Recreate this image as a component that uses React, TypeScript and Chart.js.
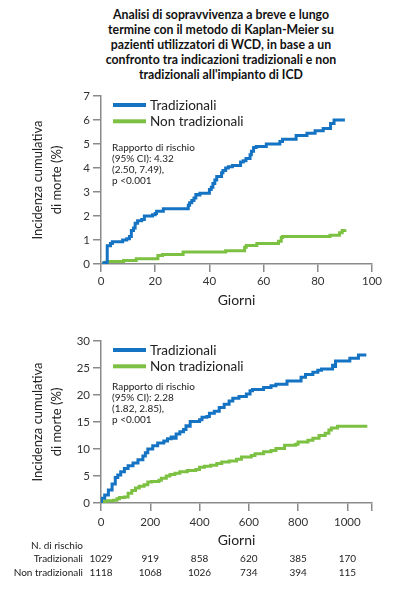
import { useEffect, useRef } from 'react';
import { Chart, registerables } from 'chart.js';

Chart.register(...registerables);

const FONT = 'Lato, "Noto Sans", sans-serif';
const BLUE = '#1573c4';
const GREEN = '#7cc142';
const AXIS = '#8a8a8a';

const titleLines = [
  'Analisi di sopravvivenza a breve e lungo',
  'termine con il metodo di Kaplan-Meier su',
  'pazienti utilizzatori di WCD, in base a un',
  'confronto tra indicazioni tradizionali e non',
  "tradizionali all'impianto di ICD",
];

const seriesNames = ['Tradizionali', 'Non tradizionali'];
const yTitle = ['Incidenza cumulativa', 'di morte (%)'];
const xTitle = 'Giorni';

// [giorno, incidenza %] - short term (90 days)
const tradShort: [number, number][] = [
  [0.5, 0.05], [2.3, 0.76], [3.5, 0.85], [4.2, 0.93], [8, 1.0], [9.5, 1.05], [10.5, 1.15],
  [11.2, 1.4], [12, 1.5], [12.6, 1.7], [13.5, 1.8], [15, 1.85], [16, 2.0], [19, 2.05],
  [20, 2.1], [20.5, 2.2], [23, 2.3], [32.2, 2.45], [32.7, 2.55], [33.5, 2.65], [34.3, 2.75],
  [35, 2.9], [36, 2.87], [36.5, 2.95], [40, 3.1], [40.7, 3.2], [41.3, 3.35], [42, 3.5],
  [42.7, 3.65], [44.5, 3.8], [45, 3.9], [46, 4.0], [47, 4.05], [48.5, 4.1], [51.5, 4.25],
  [52.5, 4.3], [53.5, 4.4], [55, 4.55], [55.5, 4.7], [56.3, 4.85], [57.3, 4.9], [61, 5.0],
  [66, 5.1], [67, 5.2], [72, 5.35], [76, 5.45], [79, 5.55], [82, 5.65], [84.7, 5.85],
  [86, 6.0], [90, 6.0],
];
const nonTradShort: [number, number][] = [
  [0.5, 0.03], [1.5, 0.07], [2.5, 0.1], [8.3, 0.15], [13, 0.22], [21, 0.35], [22.7, 0.4],
  [30.3, 0.5], [46, 0.55], [53, 0.7], [53.6, 0.77], [57.5, 0.85], [65.5, 0.95], [66.5, 1.1],
  [67, 1.15], [84.5, 1.2], [88, 1.3], [89, 1.4], [90, 1.45],
];

// long term (~3 years)
const tradLong: [number, number][] = [
  [0, 0], [2, 0.9], [15, 1.5], [30, 2.4], [45, 3.5], [58, 4.7], [68, 5.2], [80, 5.8],
  [95, 6.4], [110, 6.9], [130, 7.4], [150, 8.0], [170, 8.7], [180, 9.3], [190, 10.0],
  [210, 10.6], [230, 11.1], [255, 11.5], [270, 11.9], [285, 12.2], [295, 12.0], [305, 12.8],
  [320, 13.2], [335, 13.6], [345, 14.3], [355, 14.2], [362, 15.1], [400, 15.4], [410, 15.9],
  [430, 16.0], [440, 16.6], [460, 17.0], [480, 17.7], [500, 18.3], [520, 18.9], [535, 19.4],
  [560, 19.7], [590, 20.2], [605, 20.8], [615, 21.0], [660, 21.4], [690, 21.7], [710, 22.0],
  [755, 22.6], [812, 23.3], [830, 23.8], [860, 24.2], [880, 24.6], [895, 24.8], [940, 25.5],
  [948, 25.3], [952, 26.3], [1010, 26.8], [1045, 27.4], [1077, 27.4],
];
const nonTradLong: [number, number][] = [
  [0, 0], [8, 0.3], [20, 0.4], [50, 0.5], [65, 0.8], [75, 1.0], [95, 1.1], [110, 1.8],
  [125, 2.3], [140, 2.8], [155, 3.1], [175, 3.4], [190, 3.9], [205, 4.0], [235, 4.2],
  [245, 4.6], [265, 5.0], [280, 5.3], [300, 5.5], [320, 5.8], [350, 6.0], [385, 6.2],
  [400, 6.6], [420, 6.8], [445, 7.0], [470, 7.3], [490, 7.6], [520, 7.8], [550, 8.1],
  [570, 8.5], [610, 8.8], [625, 9.1], [660, 9.5], [690, 9.7], [710, 10.1], [745, 10.7],
  [790, 10.9], [800, 11.3], [840, 11.6], [860, 12.0], [885, 12.5], [910, 12.9], [925, 13.5],
  [935, 13.9], [960, 14.2], [1081, 14.2],
];

const xTicksShort = [0, 20, 40, 60, 80, 100];
const yTicksShort = [0, 1, 2, 3, 4, 5, 6, 7];
const xTicksLong = [0, 200, 400, 600, 800, 1000, 1100];
const yTicksLong = [0, 5, 10, 15, 20, 25, 30];

const hrShort = ['Rapporto di rischio', '(95% CI): 4.32', '(2.50, 7.49),', 'p <0.001'];
const hrLong = ['Rapporto di rischio', '(95% CI): 2.28', '(1.82, 2.85),', 'p <0.001'];

const riskLabel = 'N. di rischio';
const riskDays = [0, 200, 400, 600, 800, 1000];
const riskTrad = [1029, 919, 858, 620, 385, 170];
const riskNonTrad = [1118, 1068, 1026, 734, 394, 115];

type Extra = { hr: string[]; hrOffset: number; risk?: boolean };

function overlayPlugin(extra: Extra) {
  return {
    id: 'overlay',
    afterDraw(chart: any) {
      const { ctx, chartArea } = chart;
      const left = chartArea.left;
      const top = chartArea.top;
      ctx.save();
      // legend
      const colors = [BLUE, GREEN];
      ctx.textBaseline = 'middle';
      ctx.textAlign = 'left';
      ctx.font = `13.5px ${FONT}`;
      seriesNames.forEach((name, i) => {
        const y = top + 9 + i * 16.3;
        ctx.fillStyle = colors[i];
        ctx.fillRect(left + 12, y - 2, 33, 4);
        ctx.fillStyle = '#222';
        ctx.fillText(name, left + 49, y + 0.5);
      });
      // hazard ratio text
      ctx.font = `10px ${FONT}`;
      ctx.fillStyle = '#222';
      extra.hr.forEach((line, i) => {
        ctx.fillText(line, left + 11, top + extra.hrOffset + i * 11);
      });
      // number at risk
      if (extra.risk) {
        const x = chart.scales.x;
        const b = chartArea.bottom;
        ctx.font = `10px ${FONT}`;
        ctx.fillStyle = '#222';
        ctx.textAlign = 'right';
        ctx.fillText(riskLabel, 83, b + 43);
        ctx.fillText(seriesNames[0], 83, b + 55.7);
        ctx.fillText(seriesNames[1], 83, b + 69.3);
        ctx.textAlign = 'center';
        riskDays.forEach((d, i) => {
          const px = x.getPixelForValue(d);
          ctx.fillText(String(riskTrad[i]), px, b + 55.7);
          ctx.fillText(String(riskNonTrad[i]), px, b + 69.3);
        });
      }
      ctx.restore();
    },
  };
}

type PanelProps = {
  trad: [number, number][];
  nonTrad: [number, number][];
  xTicks: number[];
  yTicks: number[];
  hideLast: boolean;
  padBottom: number;
  xHeight: number;
  xTitlePad: number;
  tickPad: number;
  extra: Extra;
  height: number;
};

function Panel(p: PanelProps) {
  const ref = useRef<HTMLCanvasElement>(null);

  useEffect(() => {
    if (!ref.current) return;
    const toPts = (arr: [number, number][]) => arr.map(([x, y]) => ({ x, y }));
    const xMax = p.xTicks[p.xTicks.length - 1];
    const yMax = p.yTicks[p.yTicks.length - 1];
    const chart = new Chart(ref.current, {
      type: 'line',
      data: {
        datasets: [
          {
            label: seriesNames[0],
            data: toPts(p.trad),
            borderColor: BLUE,
            borderWidth: 3,
            stepped: true,
            pointRadius: 0,
            fill: false,
          },
          {
            label: seriesNames[1],
            data: toPts(p.nonTrad),
            borderColor: GREEN,
            borderWidth: 3,
            stepped: true,
            pointRadius: 0,
            fill: false,
          },
        ],
      },
      options: {
        animation: false,
        responsive: false,
        devicePixelRatio: 1,
        layout: { padding: { left: 0, right: 28, top: 11, bottom: p.padBottom } },
        plugins: { legend: { display: false }, tooltip: { enabled: false } },
        scales: {
          x: {
            type: 'linear',
            min: 0,
            max: xMax,
            afterBuildTicks: (s: any) => {
              s.ticks = p.xTicks.map((v) => ({ value: v }));
            },
            afterFit: (s: any) => {
              s.height = p.xHeight;
            },
            ticks: {
              font: { family: FONT, size: 11.5 },
              color: '#333',
              padding: p.tickPad,
              maxRotation: 0,
              callback: (v: any, i: number) => (p.hideLast && i === p.xTicks.length - 1 ? '' : String(v)),
            },
            grid: { display: true, drawOnChartArea: false, drawTicks: true, tickLength: 8, color: AXIS, lineWidth: 1.5 },
            border: { display: true, color: AXIS, width: 1.5 },
            title: {
              display: true,
              text: xTitle,
              font: { family: FONT, size: 14, lineHeight: 1.2 },
              color: '#222',
              padding: { top: 0, bottom: p.xTitlePad },
            },
          },
          y: {
            type: 'linear',
            min: 0,
            max: yMax,
            afterBuildTicks: (s: any) => {
              s.ticks = p.yTicks.map((v) => ({ value: v }));
            },
            afterFit: (s: any) => {
              s.width = 101;
            },
            ticks: { font: { family: FONT, size: 11.5 }, color: '#333', padding: 3 },
            grid: { display: true, drawOnChartArea: false, drawTicks: true, tickLength: 8, color: AXIS, lineWidth: 1.5 },
            border: { display: true, color: AXIS, width: 1.5 },
            title: {
              display: true,
              text: yTitle,
              font: { family: FONT, size: 13, lineHeight: 1.46 },
              color: '#222',
              padding: { top: 28.5, bottom: 0 },
            },
          },
        },
      },
      plugins: [overlayPlugin(p.extra)],
    });
    return () => chart.destroy();
  }, []);

  return <canvas ref={ref} width={400} height={p.height} style={{ display: 'block', width: 400, height: p.height }} />;
}

export default function App() {
  return (
    <div style={{ position: 'fixed', left: 0, top: 0, width: 400, height: 595, background: '#fff', fontFamily: FONT }}>
      <div
        style={{
          position: 'absolute',
          left: 61,
          top: 7,
          width: 320,
          textAlign: 'center',
          fontWeight: 700,
          fontSize: 12.3,
          lineHeight: '15px',
          color: '#111',
        }}
      >
        {titleLines.map((l, i) => (
          <div key={i}>{l}</div>
        ))}
      </div>
      <div style={{ position: 'absolute', left: 0, top: 85 }}>
        <Panel
          trad={tradShort}
          nonTrad={nonTradShort}
          xTicks={xTicksShort}
          yTicks={yTicksShort}
          hideLast={false}
          padBottom={0}
          xHeight={46}
          xTitlePad={1}
          tickPad={2}
          extra={{ hr: hrShort, hrOffset: 52 }}
          height={225}
        />
      </div>
      <div style={{ position: 'absolute', left: 0, top: 330 }}>
        <Panel
          trad={tradLong}
          nonTrad={nonTradLong}
          xTicks={xTicksLong}
          yTicks={yTicksLong}
          hideLast={true}
          padBottom={42}
          xHeight={50}
          xTitlePad={4}
          tickPad={4}
          extra={{ hr: hrLong, hrOffset: 46, risk: true }}
          height={265}
        />
      </div>
    </div>
  );
}
